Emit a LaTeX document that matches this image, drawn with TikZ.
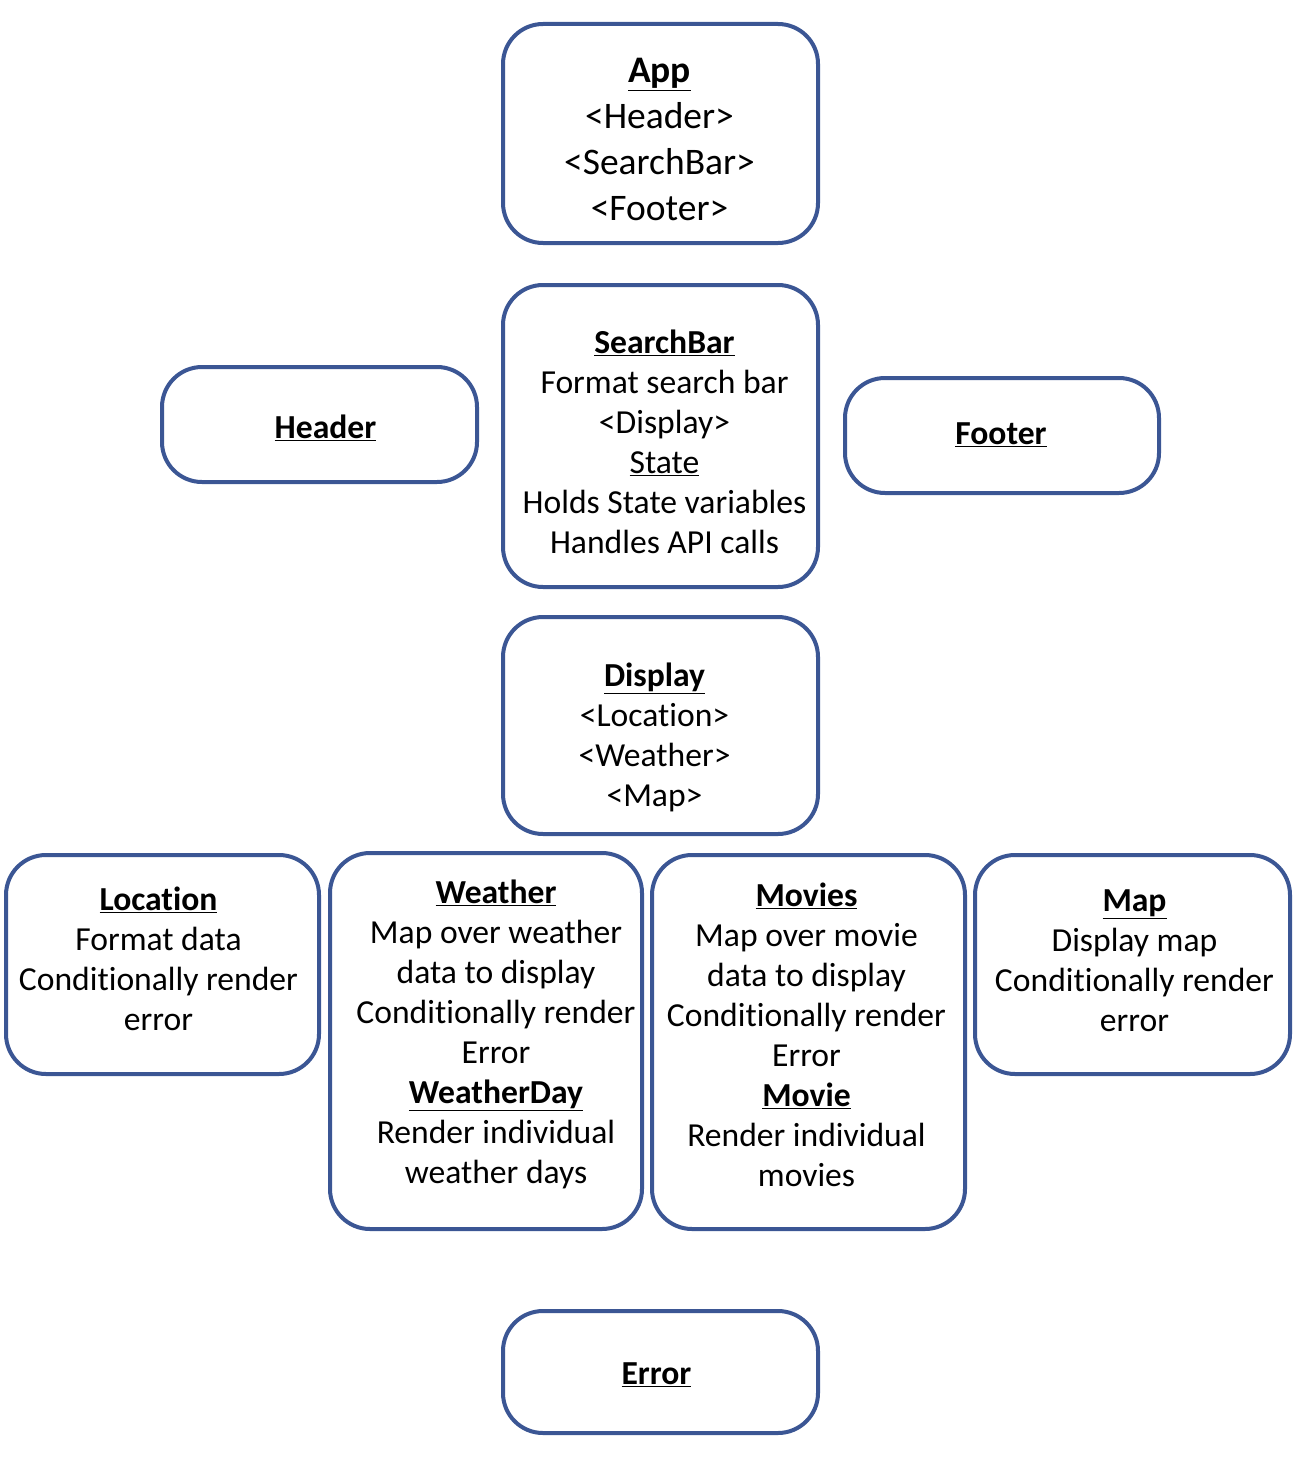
\documentclass[tikz,border=0pt]{standalone}
\usepackage{fontspec}
\setmainfont{Carlito}[Ligatures=NoCommon]
\definecolor{boxblue}{HTML}{3B5694}
\begin{document}
\begin{tikzpicture}[x=1pt,y=-1pt,
  box/.style={draw=boxblue,line width=4pt,rounded corners=40pt,fill=white,inner sep=0pt},
  txt/.style={align=center,inner sep=0pt,font=\fontsize{33.6}{40}\selectfont},
  bigtxt/.style={txt,font=\fontsize{37.5}{46}\selectfont}]
\useasboundingbox (0,0) rectangle (1296,1464);
\newcommand{\ttl}[1]{\textbf{\underline{#1}}}

\node (app) [box,minimum width=315pt,minimum height=219pt] at (660.5,133.5)
  [label={[bigtxt,shift={(-1,6)}]center:{\ttl{App}\\<Header>\\<SearchBar>\\<Footer>}}] {};

\node (search) [box,minimum width=315pt,minimum height=302pt] at (660.5,436)
  [label={[txt,shift={(4,6)}]center:{\ttl{SearchBar}\\Format search bar\\<Display>\\\underline{State}\\Holds State variables\\Handles API calls}}] {};

\node (header) [box,minimum width=315pt,minimum height=115pt] at (319.5,424.5)
  [label={[txt,shift={(6,3)}]center:{\ttl{Header}}}] {};

\node (footer) [box,minimum width=314pt,minimum height=115pt] at (1002,435.5)
  [label={[txt,shift={(-1,-1)}]center:{\ttl{Footer}}}] {};

\node (display) [box,minimum width=315pt,minimum height=217pt] at (660.5,725.5)
  [label={[txt,shift={(-6,12)}]center:{\ttl{Display}\\<Location>\\<Weather>\\<Map>}}] {};

\node (location) [box,minimum width=313pt,minimum height=219pt] at (162.5,964.5)
  [label={[txt,shift={(-4,-6)}]center:{\ttl{Location}\\Format data\\Conditionally render\\error}}] {};

\node (weather) [box,minimum width=312pt,minimum height=376pt] at (486,1041)
  [label={[txt,shift={(10,-7)}]center:{\ttl{Weather}\\Map over weather\\data to display\\Conditionally render\\Error\\\ttl{WeatherDay}\\Render individual\\weather days}}] {};

\node (movies) [box,minimum width=313pt,minimum height=374pt] at (808.5,1042)
  [label={[txt,shift={(-2,-7)}]center:{\ttl{Movies}\\Map over movie\\data to display\\Conditionally render\\Error\\\ttl{Movie}\\Render individual\\movies}}] {};

\node (map) [box,minimum width=315pt,minimum height=219pt] at (1132.5,964.5)
  [label={[txt,shift={(2,-4)}]center:{\ttl{Map}\\Display map\\Conditionally render\\error}}] {};

\node (error) [box,minimum width=315pt,minimum height=122pt] at (660.5,1372)
  [label={[txt,shift={(-4,3)}]center:{\ttl{Error}}}] {};
\end{tikzpicture}
\end{document}
